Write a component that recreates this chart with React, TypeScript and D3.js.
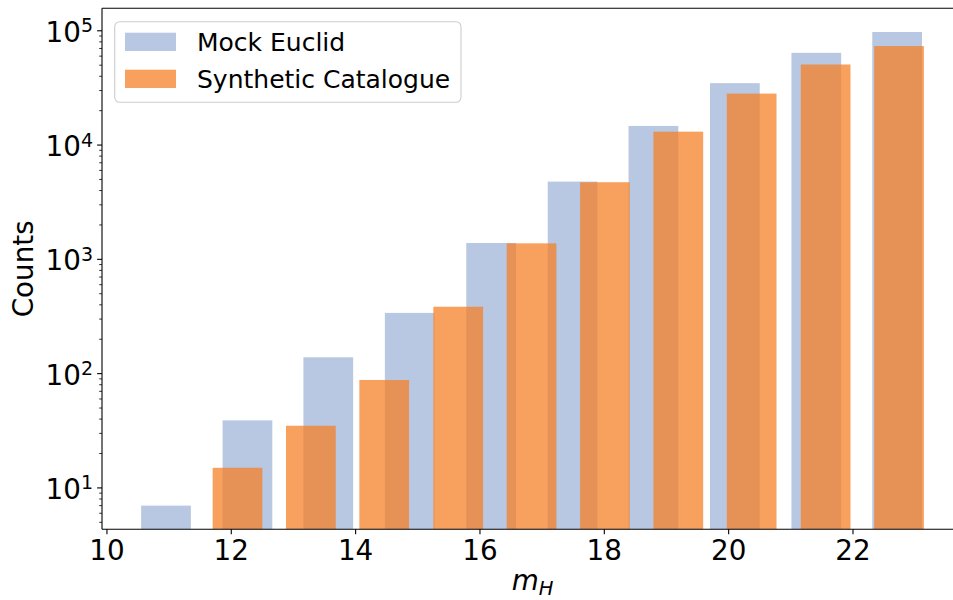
import React from 'react';
import * as d3 from 'd3';

// bin centres and counts (bars are width 0.8 in m_H units)
const mockCentres = [10.95, 12.26, 13.56, 14.87, 16.18, 17.49, 18.79, 20.1, 21.41, 22.71];
const mockCounts = [7, 39, 139, 340, 1390, 4790, 14700, 34800, 64100, 97600];
const synthCentres = [12.1, 13.28, 14.46, 15.65, 16.83, 18.01, 19.19, 20.37, 21.56, 22.74];
const synthCounts = [15, 35, 88, 385, 1380, 4730, 13100, 28200, 50700, 73500];
const xTicks = [10, 12, 14, 16, 18, 20, 22];
const yExponents = [1, 2, 3, 4, 5];
const seriesNames = ['Mock Euclid', 'Synthetic Catalogue'];

const BAR_W = 0.8;
const W = 953;
const H = 600;
const left = 102;
const top = 8.3;
const bottom = 529.3;
const font = 'DejaVu Sans, sans-serif';
const blue = '#b8c8e2';
const orange = 'rgb(245,128,40)';
const orangeAlpha = 0.75;

const App: React.FC = () => {
  // x: matplotlib style 5% margins
  const xMin = d3.min(mockCentres.concat(synthCentres))! - BAR_W / 2;
  const xMax = d3.max(mockCentres.concat(synthCentres))! + BAR_W / 2;
  const xPad = (xMax - xMin) * 0.05;
  const x = d3.scaleLinear().domain([xMin - xPad, xMax + xPad]).range([left, 963]);

  // y: log with 5% margins in log space
  const all = mockCounts.concat(synthCounts);
  const lo = Math.log10(d3.min(all)!);
  const hi = Math.log10(d3.max(all)!);
  const yPad = (hi - lo) * 0.05;
  const y = d3.scaleLog().domain([10 ** (lo - yPad), 10 ** (hi + yPad)]).range([bottom, top]);

  const minor: number[] = [];
  for (let e = 0; e <= 5; e++) {
    for (let m = 2; m <= 9; m++) {
      const v = m * 10 ** e;
      if (v >= y.domain()[0] && v <= y.domain()[1]) minor.push(v);
    }
  }

  const bars = (centres: number[], counts: number[], fill: string, op: number) =>
    centres.map((c, i) => (
      <rect
        key={i}
        x={x(c - BAR_W / 2)}
        width={x(c + BAR_W / 2) - x(c - BAR_W / 2)}
        y={y(counts[i])}
        height={bottom - y(counts[i])}
        fill={fill}
        fillOpacity={op}
      />
    ));

  return (
    <svg width={W} height={H} style={{ position: 'absolute', left: 0, top: 0 }} fontFamily={font}>
      <rect width={W} height={H} fill="#fff" />
      <defs>
        <clipPath id="plot">
          <rect x={left} y={top} width={W - left} height={bottom - top} />
        </clipPath>
      </defs>
      <g clipPath="url(#plot)">
        {bars(mockCentres, mockCounts, blue, 1)}
        {bars(synthCentres, synthCounts, orange, orangeAlpha)}
      </g>

      {/* spines */}
      <line x1={left} x2={left} y1={top} y2={bottom} stroke="#000" strokeWidth={1.1} />
      <line x1={left} x2={W} y1={bottom} y2={bottom} stroke="#000" strokeWidth={1.1} />
      <line x1={left} x2={W} y1={top} y2={top} stroke="#000" strokeWidth={1.1} />

      {/* x ticks */}
      {xTicks.map(t => (
        <g key={t}>
          <line x1={x(t)} x2={x(t)} y1={bottom} y2={bottom + 4.9} stroke="#000" strokeWidth={1.1} />
          <text x={x(t)} y={bottom + 31} textAnchor="middle" fontSize={27.8}>{t}</text>
        </g>
      ))}

      {/* y ticks */}
      {minor.map(v => (
        <line key={v} x1={left - 2.8} x2={left} y1={y(v)} y2={y(v)} stroke="#000" strokeWidth={0.8} />
      ))}
      {yExponents.map(e => (
        <g key={e}>
          <line x1={left - 4.9} x2={left} y1={y(10 ** e)} y2={y(10 ** e)} stroke="#000" strokeWidth={1.1} />
          <text x={left - 9} y={y(10 ** e) + 11} textAnchor="end" fontSize={27.8}>
            10<tspan fontSize={19} dy={-9.5}>{e}</tspan>
          </text>
        </g>
      ))}

      {/* axis labels */}
      <text transform={`translate(33,${(top + bottom) / 2}) rotate(-90)`} textAnchor="middle" fontSize={27.8}>
        Counts
      </text>
      <text x={(left + 963) / 2} y={590} textAnchor="middle" fontSize={27.8} fontStyle="italic">
        m<tspan fontSize={19.5} dy={5}>H</tspan>
      </text>

      {/* legend */}
      <g transform="translate(114.7,21.7)">
        <rect width={346.3} height={80.6} rx={5} fill="#fff" fillOpacity={0.8} stroke="#ccc" strokeWidth={1.1} />
        {seriesNames.map((name, i) => (
          <g key={name} transform={`translate(10.3,${11 + i * 37})`}>
            <rect width={51} height={18.3} fill={i === 0 ? blue : orange} fillOpacity={i === 0 ? 1 : orangeAlpha} />
            <text x={72} y={18} fontSize={25}>{name}</text>
          </g>
        ))}
      </g>
    </svg>
  );
};

export default App;
